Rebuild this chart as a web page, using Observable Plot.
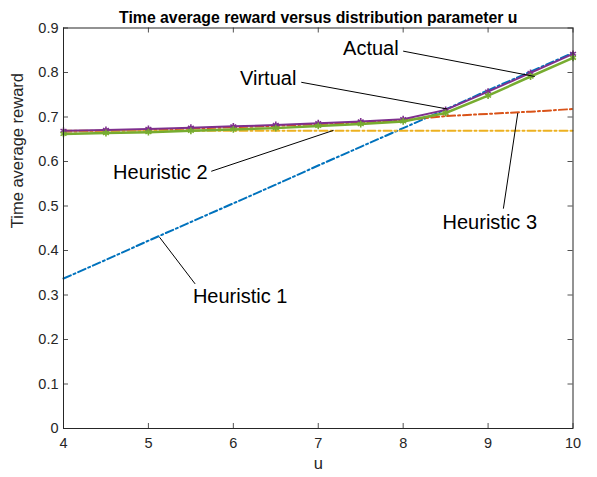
<!DOCTYPE html>
<html>
<head>
<meta charset="utf-8">
<script src="https://cdn.jsdelivr.net/npm/d3@7"></script>
<script src="https://cdn.jsdelivr.net/npm/@observablehq/plot@0.6"></script>
<style>
  html, body { margin: 0; padding: 0; background: #fff; }
  #chart svg { display: block; }
</style>
</head>
<body>
<div id="chart"></div>
<script>
// ---- data ----
const u = [4, 4.5, 5, 5.5, 6, 6.5, 7, 7.5, 8, 8.5, 9, 9.5, 10];
const heuristic1 = [0.337, 0.379, 0.422, 0.464, 0.506, 0.548, 0.591, 0.633, 0.675, 0.717, 0.760, 0.802, 0.844];
const heuristic3 = [0.667, 0.669, 0.671, 0.674, 0.677, 0.680, 0.684, 0.688, 0.693, 0.702, 0.707, 0.712, 0.718];
const heuristic2 = [0.669, 0.669, 0.669, 0.669, 0.669, 0.669, 0.669, 0.669, 0.669, 0.669, 0.669, 0.669, 0.669];
const virtualR   = [0.669, 0.671, 0.673, 0.676, 0.679, 0.682, 0.686, 0.690, 0.695, 0.716, 0.757, 0.799, 0.842];
const actualR    = [0.662, 0.664, 0.666, 0.669, 0.672, 0.675, 0.680, 0.684, 0.690, 0.709, 0.748, 0.791, 0.833];

const xTicks = [4, 5, 6, 7, 8, 9, 10];
const yTicks = [0, 0.1, 0.2, 0.3, 0.4, 0.5, 0.6, 0.7, 0.8, 0.9];

// annotations: label, text position (u, y), line start, line end
const annLabels = ["Actual", "Virtual", "Heuristic 2", "Heuristic 3", "Heuristic 1"];
const annTextU  = [7.62, 6.41, 5.14, 9.02, 6.08];
const annTextY  = [0.853, 0.786, 0.574, 0.462, 0.296];
const annFromU  = [8.00, 6.80, 5.74, 9.18, 5.55];
const annFromY  = [0.848, 0.778, 0.578, 0.494, 0.325];
const annToU    = [9.55, 8.52, 7.18, 9.35, 5.13];
const annToY    = [0.791, 0.718, 0.670, 0.709, 0.430];

const title = "Time average reward versus distribution parameter u";
const xLabel = "u";
const yLabel = "Time average reward";

// ---- build tables ----
const seriesDefs = [
  {name: "Heuristic 1", vals: heuristic1, color: "#0072BD", dash: "8,3,2,3", w: 2},
  {name: "Heuristic 3", vals: heuristic3, color: "#D95319", dash: "8,3,2,3", w: 2},
  {name: "Heuristic 2", vals: heuristic2, color: "#EDB120", dash: "8,3,2,3", w: 2},
  {name: "Virtual",     vals: virtualR,   color: "#7E2F8E", dash: null, w: 2, marker: true},
  {name: "Actual",      vals: actualR,    color: "#77AC30", dash: null, w: 2.5, marker: true}
];
const tbl = s => u.map((x, i) => ({u: x, v: s.vals[i]}));
const ann = annLabels.map((t, i) => ({t, tu: annTextU[i], ty: annTextY[i], fu: annFromU[i], fy: annFromY[i], eu: annToU[i], ey: annToY[i]}));

const xDom = [4, 10], yDom = [0, 0.9];
const W = 597, H = 477;
const mL = 63, mR = 24.5, mT = 27.5, mB = 49;
const tickPx = 5;
const tx = tickPx * (xDom[1] - xDom[0]) / (W - mL - mR);
const ty = tickPx * (yDom[1] - yDom[0]) / (H - mT - mB);
const axisColor = "#262626";

const marks = [];
// inward ticks on all four sides
marks.push(Plot.ruleX(xTicks, {x: d => d, y1: yDom[0], y2: yDom[0] + ty, stroke: axisColor, strokeWidth: 0.8}));
marks.push(Plot.ruleX(xTicks, {x: d => d, y1: yDom[1], y2: yDom[1] - ty, stroke: axisColor, strokeWidth: 0.8}));
marks.push(Plot.ruleY(yTicks, {y: d => d, x1: xDom[0], x2: xDom[0] + tx, stroke: axisColor, strokeWidth: 0.8}));
marks.push(Plot.ruleY(yTicks, {y: d => d, x1: xDom[1], x2: xDom[1] - tx, stroke: axisColor, strokeWidth: 0.8}));

for (const s of seriesDefs) {
  marks.push(Plot.line(tbl(s), {x: "u", y: "v", stroke: s.color, strokeWidth: s.w, strokeDasharray: s.dash || undefined}));
  if (s.marker) marks.push(Plot.dot(tbl(s), {x: "u", y: "v", symbol: "asterisk", r: 3.2, stroke: s.color, strokeWidth: 1.6}));
}

// annotation leader lines and text
marks.push(Plot.link(ann, {x1: "fu", y1: "fy", x2: "eu", y2: "ey", stroke: "#000", strokeWidth: 1}));
marks.push(Plot.text(ann, {x: "tu", y: "ty", text: "t", fontSize: 20, fill: "#000", fontFamily: "Liberation Sans, Arial, sans-serif"}));

marks.push(Plot.frame({stroke: axisColor, strokeWidth: 1}));
marks.push(Plot.axisX(xTicks, {anchor: "bottom", tickSize: 0, tickPadding: 9, fontSize: 14.5, color: axisColor, label: null}));
marks.push(Plot.axisY(yTicks, {anchor: "left", tickSize: 0, tickPadding: 5, fontSize: 14.5, color: axisColor, label: null, tickFormat: d => d === 0 ? "0" : d3.format(".1f")(d)}));
marks.push(Plot.text([title], {frameAnchor: "top", dy: -16, fontSize: 15.8, fontWeight: "bold", fill: "#000"}));
marks.push(Plot.text([xLabel], {frameAnchor: "bottom", dy: 40, fontSize: 16.5, fill: axisColor}));
marks.push(Plot.text([yLabel], {frameAnchor: "left", dx: -46, rotate: -90, fontSize: 16.5, fill: axisColor}));

const chart = Plot.plot({
  width: W, height: H,
  marginLeft: mL, marginRight: mR, marginTop: mT, marginBottom: mB,
  x: {domain: xDom, axis: null},
  y: {domain: yDom, axis: null},
  style: {fontFamily: "Liberation Sans, Arial, Helvetica, sans-serif", background: "#fff", overflow: "visible"},
  marks
});
document.getElementById("chart").appendChild(chart);
</script>
</body>
</html>
